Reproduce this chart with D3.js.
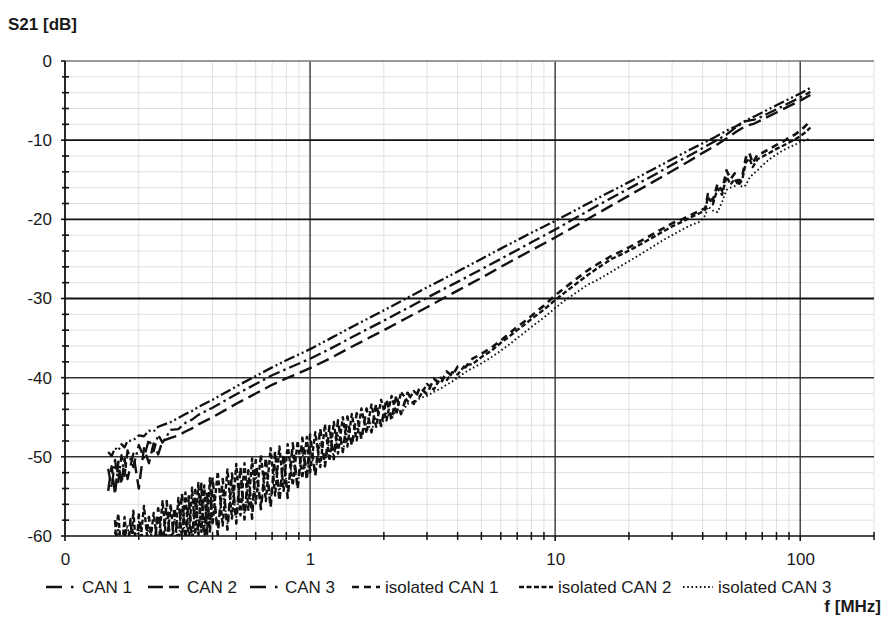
<!DOCTYPE html>
<html><head><meta charset="utf-8">
<script src="https://cdn.jsdelivr.net/npm/d3@7"></script>
<style>
body{margin:0;background:#fff}
text{font-family:"Liberation Sans",Arial,sans-serif;fill:#1a1a1a}
</style>
</head><body><svg id="c" width="883" height="621"></svg>
<script>
// ---------- DATA ----------
const seriesNames = ["CAN 1", "CAN 2", "CAN 3", "isolated CAN 1", "isolated CAN 2", "isolated CAN 3"];
const yTickValues = [0, -10, -20, -30, -40, -50, -60];
const xTickValues = [0.1, 1, 10, 100];
const xTickLabels = ["0", "1", "10", "100"];

const freqCan = [
  0.15,0.155,0.16,0.165,0.17,0.175,0.18,0.19,0.2,0.21,
  0.22,0.23,0.24,0.25,0.27,0.29,0.31,0.33,0.35,0.4,
  0.45,0.5,0.6,0.7,0.8,1,1.2,1.5,2,2.5,
  3,4,5,6,8,10,12,15,20,25,
  30,35,40,45,50,55,60,65,70,80,
  90,100,110];
const can1 = [
  -49.4,-49.9,-48.9,-49.2,-48.4,-48.8,-48.0,-47.9,-47.3,-47.4,
  -46.7,-46.8,-46.2,-46.0,-45.6,-45.1,-44.6,-44.2,-43.7,-42.8,
  -41.9,-41.1,-39.8,-38.7,-37.8,-36.4,-35.1,-33.5,-31.5,-29.9,
  -28.6,-26.6,-25.0,-23.7,-21.7,-20.2,-18.9,-17.3,-15.3,-13.7,
  -12.4,-11.3,-10.4,-9.6,-8.8,-8.2,-7.5,-7.0,-6.5,-5.6,
  -4.8,-4.1,-3.4];
const can2 = [
  -54.3,-51.2,-54.8,-50.6,-53.5,-50.2,-52.8,-49.6,-54.0,-48.9,
  -50.8,-48.3,-49.7,-48.0,-47.6,-47.3,-46.8,-46.4,-45.9,-45.0,
  -44.1,-43.3,-42.0,-40.9,-40.1,-38.8,-37.6,-36.0,-34.0,-32.4,
  -31.1,-29.0,-27.4,-26.0,-23.9,-22.3,-20.9,-19.2,-17.0,-15.3,
  -13.9,-12.7,-11.6,-10.7,-9.8,-8.9,-8.2,-7.9,-7.4,-6.5,
  -5.7,-5.0,-4.3];
const can3 = [
  -51.5,-53.9,-50.4,-53.2,-49.8,-52.4,-49.2,-51.3,-48.5,-50.1,
  -47.8,-49.3,-47.2,-48.2,-46.6,-46.5,-45.7,-45.3,-44.7,-43.8,
  -42.9,-42.1,-40.8,-39.7,-38.9,-37.6,-36.4,-34.8,-32.8,-31.2,
  -29.9,-27.9,-26.3,-25.0,-22.9,-21.3,-19.9,-18.2,-16.1,-14.5,
  -13.1,-12.0,-11.0,-10.1,-9.3,-8.3,-7.6,-7.4,-7.0,-6.1,
  -5.3,-4.6,-3.9];

const freqIso = [
  0.16,0.165,0.17,0.175,0.18,0.185,0.19,0.195,0.2,0.21,
  0.22,0.23,0.24,0.25,0.26,0.27,0.28,0.29,0.3,0.31,
  0.32,0.33,0.34,0.35,0.36,0.37,0.38,0.39,0.4,0.42,
  0.44,0.46,0.48,0.5,0.52,0.54,0.56,0.58,0.6,0.63,
  0.66,0.69,0.72,0.75,0.78,0.81,0.85,0.89,0.93,0.97,
  1.0,1.05,1.1,1.15,1.2,1.25,1.3,1.36,1.42,1.48,
  1.55,1.62,1.7,1.78,1.86,1.95,2.05,2.15,2.25,2.35,
  2.5,2.65,2.8,3.0,3.2,3.4,3.6,3.8,4.0,4.3,
  4.6,5.0,5.5,6.0,6.5,7.0,7.5,8.0,9.0,10,
  11,12,13.5,15,17,19,21,24,27,30,
  33,36,39,41,42,44,46,48,50,52,
  54,56,58,60,62,64,67,70,75,80,
  85,90,95,100,105,110];
const iso1 = [
  -58.0,-62.5,-63.0,-59.2,-62.8,-57.9,-62.0,-63.5,-57.3,-61.8,
  -57.6,-62.4,-56.5,-61.2,-55.6,-61.8,-56.4,-60.9,-54.6,-60.5,
  -55.0,-61.2,-54.2,-60.1,-53.4,-60.8,-54.5,-59.6,-52.6,-59.9,
  -52.8,-59.2,-52.1,-58.4,-51.3,-57.9,-51.7,-57.8,-50.4,-56.6,
  -50.1,-56.4,-49.3,-55.6,-49.6,-55.2,-48.3,-54.1,-47.6,-52.9,
  -47.2,-52.4,-46.4,-51.2,-46.1,-50.3,-45.4,-49.4,-44.9,-48.6,
  -44.5,-47.8,-43.9,-46.9,-43.3,-46.1,-42.7,-45.3,-42.2,-44.6,
  -41.9,-43.3,-41.2,-42.1,-40.1,-40.9,-39.2,-39.8,-38.6,-38.7,
  -37.6,-37.0,-36.2,-35.3,-34.4,-33.6,-32.9,-32.2,-30.9,-29.6,
  -28.6,-27.7,-26.5,-25.6,-24.6,-23.9,-23.2,-22.2,-21.3,-20.5,
  -20.0,-19.4,-18.9,-18.6,-16.8,-17.6,-15.5,-16.4,-13.8,-14.9,
  -14.2,-15.3,-14.6,-12.2,-11.6,-12.9,-11.8,-11.6,-11.1,-10.6,
  -10.2,-9.7,-9.3,-8.8,-8.2,-7.6];
const iso2 = [
  -59.8,-57.2,-62.4,-57.6,-61.9,-63.2,-56.8,-61.5,-62.8,-56.2,
  -62.3,-57.1,-61.6,-55.6,-61.0,-56.0,-61.7,-55.2,-60.4,-54.5,
  -60.9,-53.9,-59.8,-53.3,-59.5,-53.6,-59.8,-52.7,-58.6,-51.9,
  -58.7,-51.6,-57.8,-50.9,-57.4,-50.8,-56.7,-50.2,-55.9,-49.8,
  -55.6,-48.9,-54.9,-48.7,-54.3,-48.4,-53.6,-48.0,-52.7,-47.5,
  -52.0,-46.9,-51.3,-45.9,-50.5,-45.6,-49.6,-45.0,-48.7,-44.6,
  -47.9,-43.9,-47.0,-43.4,-46.2,-42.8,-45.4,-42.3,-44.6,-41.8,
  -43.0,-41.7,-42.4,-40.8,-41.5,-40.0,-40.4,-39.3,-39.6,-38.4,
  -38.3,-37.4,-36.6,-35.6,-34.8,-34.0,-33.3,-32.6,-31.4,-30.2,
  -29.2,-28.3,-27.1,-26.1,-25.0,-24.3,-23.6,-22.6,-21.7,-20.9,
  -20.3,-19.7,-19.2,-18.8,-17.2,-18.1,-16.1,-16.9,-14.6,-15.6,
  -14.9,-15.7,-15.0,-12.8,-12.3,-13.4,-12.4,-12.1,-11.6,-11.1,
  -10.7,-10.3,-9.9,-9.5,-9.0,-8.4];
const iso3 = [
  -61.5,-59.0,-62.5,-60.4,-58.6,-62.0,-59.3,-61.0,-58.2,-62.2,
  -58.9,-61.3,-57.6,-61.5,-57.0,-60.6,-57.8,-61.0,-56.5,-60.2,
  -57.0,-60.7,-55.8,-59.7,-55.3,-59.5,-55.6,-58.8,-54.5,-58.9,
  -54.3,-58.4,-53.8,-57.6,-53.1,-57.2,-52.9,-56.7,-52.2,-56.1,
  -51.9,-55.6,-51.1,-54.6,-50.5,-54.3,-50.1,-53.5,-49.4,-52.6,
  -49.0,-52.0,-48.2,-50.9,-47.8,-50.0,-47.3,-49.3,-46.7,-48.4,
  -46.2,-47.4,-45.6,-46.7,-45.0,-46.1,-44.4,-45.3,-43.8,-44.5,
  -43.3,-43.2,-42.6,-42.3,-41.8,-41.4,-40.9,-40.5,-40.0,-39.3,
  -38.8,-38.2,-37.4,-36.6,-35.8,-35.0,-34.3,-33.6,-32.4,-31.2,
  -30.2,-29.4,-28.3,-27.6,-26.6,-25.7,-24.9,-23.8,-22.8,-22.0,
  -21.3,-20.7,-20.3,-19.5,-18.4,-18.9,-19.1,-17.8,-16.3,-16.0,
  -15.8,-15.5,-15.9,-15.7,-14.8,-14.3,-13.8,-13.2,-12.4,-11.8,
  -11.3,-10.9,-10.6,-10.2,-10.0,-9.8];

// ---------- CHART ----------
const svg = d3.select("#c");
const x = d3.scaleLog().domain([0.1, 200]).range([65, 874]);
const y = d3.scaleLinear().domain([-60, 0]).range([536, 61]);
const [x0, x1] = x.range();
const [yb, yt] = y.range();

// minor grid positions
const xMinor = [];
[0.1, 1, 10, 100].forEach(d => { for (let k = 2; k <= 9; k++) { const v = k * d; if (v <= 200) xMinor.push(+v.toPrecision(3)); } });
const yMinor = d3.range(-58, 0, 2).filter(v => v % 10 !== 0);

const grid = svg.append("g");
grid.selectAll(".hm").data(yMinor).join("line")
  .attr("x1", x0).attr("x2", x1).attr("y1", d => y(d)).attr("y2", d => y(d))
  .attr("stroke", "#e0e0e0").attr("stroke-width", 1);
grid.selectAll(".vm").data(xMinor).join("line")
  .attr("x1", d => x(d)).attr("x2", d => x(d)).attr("y1", yt).attr("y2", yb)
  .attr("stroke", "#e0e0e0").attr("stroke-width", 1);
grid.selectAll(".vM").data([1, 10, 100]).join("line")
  .attr("x1", d => x(d)).attr("x2", d => x(d)).attr("y1", yt).attr("y2", yb)
  .attr("stroke", "#444").attr("stroke-width", 1.5);
grid.selectAll(".hM").data([0, -10, -20, -30, -40, -50]).join("line")
  .attr("x1", x0).attr("x2", x1).attr("y1", d => y(d)).attr("y2", d => y(d))
  .attr("stroke", d => (d === 0 ? "#777" : (d >= -30 ? "#111" : "#333")))
  .attr("stroke-width", d => (d === 0 ? 1.3 : (d >= -30 ? 1.8 : 1.5)));

// axes lines and ticks
const ax = svg.append("g");
ax.append("line").attr("x1", x0).attr("x2", x0).attr("y1", yt).attr("y2", yb).attr("stroke", "#111").attr("stroke-width", 1.8);
ax.append("line").attr("x1", x0).attr("x2", x1).attr("y1", yb).attr("y2", yb).attr("stroke", "#111").attr("stroke-width", 1.6);
ax.selectAll(".yt").data(yMinor).join("line")
  .attr("x1", x0 - 3).attr("x2", x0 + 4).attr("y1", d => y(d)).attr("y2", d => y(d))
  .attr("stroke", "#111").attr("stroke-width", 1.6);
ax.selectAll(".yT").data(yTickValues).join("line")
  .attr("x1", x0 - 4).attr("x2", x0).attr("y1", d => y(d)).attr("y2", d => y(d))
  .attr("stroke", "#111").attr("stroke-width", 1.6);
ax.selectAll(".xt").data(xMinor).join("line")
  .attr("x1", d => x(d)).attr("x2", d => x(d)).attr("y1", yb - 4).attr("y2", yb + 4)
  .attr("stroke", "#111").attr("stroke-width", 1.5);
ax.selectAll(".xT").data(xTickValues).join("line")
  .attr("x1", d => x(d)).attr("x2", d => x(d)).attr("y1", yb).attr("y2", yb + 5)
  .attr("stroke", "#111").attr("stroke-width", 1.6);

// tick labels via axes
const yAxis = d3.axisLeft(y).tickValues(yTickValues).tickSize(0).tickPadding(13).tickFormat(d => String(d));
const gy = svg.append("g").attr("transform", `translate(${x0},0)`).call(yAxis);
gy.select(".domain").remove();
gy.selectAll("text").style("font-size", "17px").style("font-family", '"Liberation Sans",Arial,sans-serif').attr("fill", "#1a1a1a");

const xAxis = d3.axisBottom(x).tickValues(xTickValues).tickSize(0).tickPadding(17)
  .tickFormat((d, i) => xTickLabels[i]);
const gx = svg.append("g").attr("transform", `translate(0,${yb})`).call(xAxis);
gx.select(".domain").remove();
gx.selectAll("text").style("font-size", "17px").style("font-family", '"Liberation Sans",Arial,sans-serif').attr("fill", "#1a1a1a");

// clip
svg.append("clipPath").attr("id", "clip").append("rect")
  .attr("x", x0).attr("y", yt - 2).attr("width", x1 - x0).attr("height", yb - yt + 2);

const styles = [
  { dash: "11,3,2,3,2,3", w: 2.3 },     // CAN 1
  { dash: "13,6", w: 2.4 },             // CAN 2
  { dash: "12,4,2.5,4", w: 2.3 },       // CAN 3
  { dash: "7,5", w: 2.6 },              // isolated CAN 1
  { dash: "5,2.5", w: 2.4 },            // isolated CAN 2
  { dash: "1.6,2.6", w: 1.9 }           // isolated CAN 3
];
const series = [
  { f: freqCan, v: can1 }, { f: freqCan, v: can2 }, { f: freqCan, v: can3 },
  { f: freqIso, v: iso1 }, { f: freqIso, v: iso2 }, { f: freqIso, v: iso3 }
];
const line = d3.line().x(d => x(d[0])).y(d => y(d[1]));
const gl = svg.append("g").attr("clip-path", "url(#clip)");
series.forEach((s, i) => {
  const pts = s.f.map((f, j) => [f, s.v[j]]).filter(p => p[1] !== undefined);
  gl.append("path").datum(pts).attr("d", line)
    .attr("fill", "none").attr("stroke", "#111")
    .attr("stroke-width", styles[i].w).attr("stroke-dasharray", styles[i].dash)
    .attr("stroke-linejoin", "round");
});

// legend
const legendX = [46, 148, 250, 352, 519, 683];
const legendSym = [31, 34, 30, 28, 34, 30];
const legendDash = ["16,9,2.5,4", "15,6,10,4", "16,9,2.5,4", "7,5", "5,2.5", "1.6,2.6"];
const gLeg = svg.append("g");
seriesNames.forEach((n, i) => {
  const lx = legendX[i];
  gLeg.append("line").attr("x1", lx).attr("x2", lx + legendSym[i]).attr("y1", 587).attr("y2", 587)
    .attr("stroke", "#111").attr("stroke-width", styles[i].w)
    .attr("stroke-dasharray", legendDash[i]);
  gLeg.append("text").attr("x", lx + legendSym[i] + 5).attr("y", 593)
    .style("font-size", "17px").text(n);
});

// axis titles
svg.append("text").attr("x", 8).attr("y", 30).style("font-size", "17px").style("font-weight", "bold").text("S21 [dB]");
svg.append("text").attr("x", 881).attr("y", 612).attr("text-anchor", "end").style("font-size", "17px").style("font-weight", "bold").text("f [MHz]");
</script></body></html>
